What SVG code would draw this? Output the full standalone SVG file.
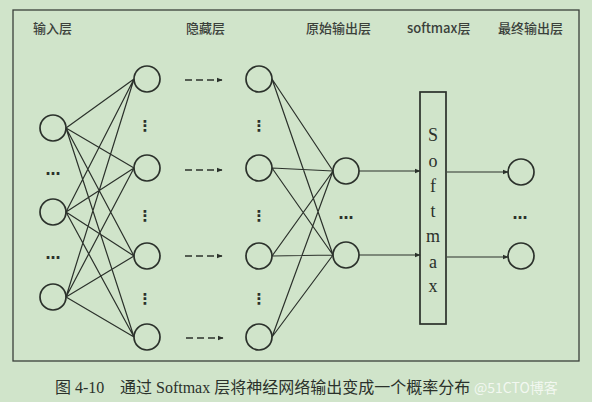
<svg xmlns="http://www.w3.org/2000/svg" width="592" height="402" viewBox="0 0 592 402">
<defs>
<style>
.n{fill:none;stroke:#2b312b;stroke-width:1.7}
.e{stroke:#2b312b;stroke-width:1.2;fill:none}
.d{stroke:#2b312b;stroke-width:1.7;stroke-dasharray:7 4;fill:none}
.lab{font-family:"Noto Sans CJK SC","Liberation Sans",sans-serif;font-size:13px;fill:#3a403a;font-weight:500}
.dots{font-family:"DejaVu Sans",sans-serif;font-size:15px;font-weight:bold;fill:#2b312b;text-anchor:middle}
.sm{font-family:"Liberation Serif","Noto Sans CJK SC",serif;font-size:18px;fill:#2b312b;text-anchor:middle}
.cap{font-family:"Liberation Serif","Noto Sans CJK SC",serif;font-size:16px;fill:#2b312b}
</style>
<marker id="ah" viewBox="0 0 10 10" refX="9" refY="5" markerWidth="6" markerHeight="6" markerUnits="userSpaceOnUse" orient="auto"><path d="M0,1 L10,5 L0,9 Z" fill="#2b312b"/></marker>
</defs>
<rect width="592" height="402" fill="#d0e4ca"/>
<rect x="13" y="10" width="566" height="351" fill="none" stroke="#3a403a" stroke-width="1.3"/>
<g id="labels">
<text class="lab" x="33" y="33">输入层</text>
<text class="lab" x="186" y="33">隐藏层</text>
<text class="lab" x="306" y="33">原始输出层</text>
<text class="lab" x="407" y="33">softmax层</text>
<text class="lab" x="498" y="33">最终输出层</text>
</g>
<g id="connectors">
<path class="e" d="M66,128 L134,79 M66,128 L134,168 M66,128 L134,256 M66,128 L134,337
M66,212 L134,79 M66,212 L134,168 M66,212 L134,256 M66,212 L134,337
M66,297 L134,79 M66,297 L134,168 M66,297 L134,256 M66,297 L134,337"/>
<path class="e" d="M272,79 L333,171 M272,79 L333,255 M272,168 L333,171 M272,168 L333,255
M272,256 L333,171 M272,256 L333,255 M272,337 L333,171 M272,337 L333,255"/>
<path class="d" d="M185,80 L222,80" marker-end="url(#ah)"/>
<path class="d" d="M185,170 L222,170" marker-end="url(#ah)"/>
<path class="d" d="M185,256 L222,256" marker-end="url(#ah)"/>
<path class="d" d="M186,338 L223,338" marker-end="url(#ah)"/>
<path class="e" d="M359,171 L420,171" marker-end="url(#ah)"/>
<path class="e" d="M359,255 L420,255" marker-end="url(#ah)"/>
<path class="e" d="M447,172 L508,172" marker-end="url(#ah)"/>
<path class="e" d="M447,257 L508,257" marker-end="url(#ah)"/>
</g>
<g id="input-layer">
<circle class="n" cx="53" cy="128" r="13"/>
<circle class="n" cx="53" cy="212" r="13"/>
<circle class="n" cx="53" cy="297" r="13"/>
<text class="dots" x="53" y="175">…</text>
<text class="dots" x="53" y="259">…</text>
</g>
<g id="hidden-layer-1">
<circle class="n" cx="147" cy="79" r="13"/>
<circle class="n" cx="147" cy="168" r="13"/>
<circle class="n" cx="147" cy="256" r="13"/>
<circle class="n" cx="147" cy="337" r="13"/>
<text class="dots" x="145" y="131">⋮</text>
<text class="dots" x="145" y="221">⋮</text>
<text class="dots" x="145" y="304">⋮</text>
</g>
<g id="hidden-layer-2">
<circle class="n" cx="259" cy="79" r="13"/>
<circle class="n" cx="259" cy="168" r="13"/>
<circle class="n" cx="259" cy="256" r="13"/>
<circle class="n" cx="259" cy="337" r="13"/>
<text class="dots" x="259" y="131">⋮</text>
<text class="dots" x="259" y="221">⋮</text>
<text class="dots" x="259" y="304">⋮</text>
</g>
<g id="raw-output-layer">
<circle class="n" cx="346" cy="171" r="13"/>
<circle class="n" cx="346" cy="255" r="13"/>
<text class="dots" x="346" y="219">…</text>
</g>
<g id="softmax-layer">
<rect x="420" y="92" width="26" height="232" fill="none" stroke="#2b312b" stroke-width="1.7"/>
<text class="sm" x="433" y="141">S</text>
<text class="sm" x="433" y="167">o</text>
<text class="sm" x="433" y="192">f</text>
<text class="sm" x="433" y="217">t</text>
<text class="sm" x="433" y="242">m</text>
<text class="sm" x="433" y="268">a</text>
<text class="sm" x="433" y="292">x</text>
</g>
<g id="final-output-layer">
<circle class="n" cx="521" cy="172" r="13"/>
<circle class="n" cx="521" cy="256" r="13"/>
<text class="dots" x="520" y="219">…</text>
</g>
<g id="caption">
<text class="cap" x="55" y="393">图 4-10</text>
<text class="cap" x="120" y="393">通过 Softmax 层将神经网络输出变成一个概率分布</text>
<text x="474" y="393" font-family="Noto Sans CJK SC, Liberation Sans, sans-serif" font-size="14" fill="#ffffff" fill-opacity="0.75">@51CTO博客</text>
</g>
</svg>
